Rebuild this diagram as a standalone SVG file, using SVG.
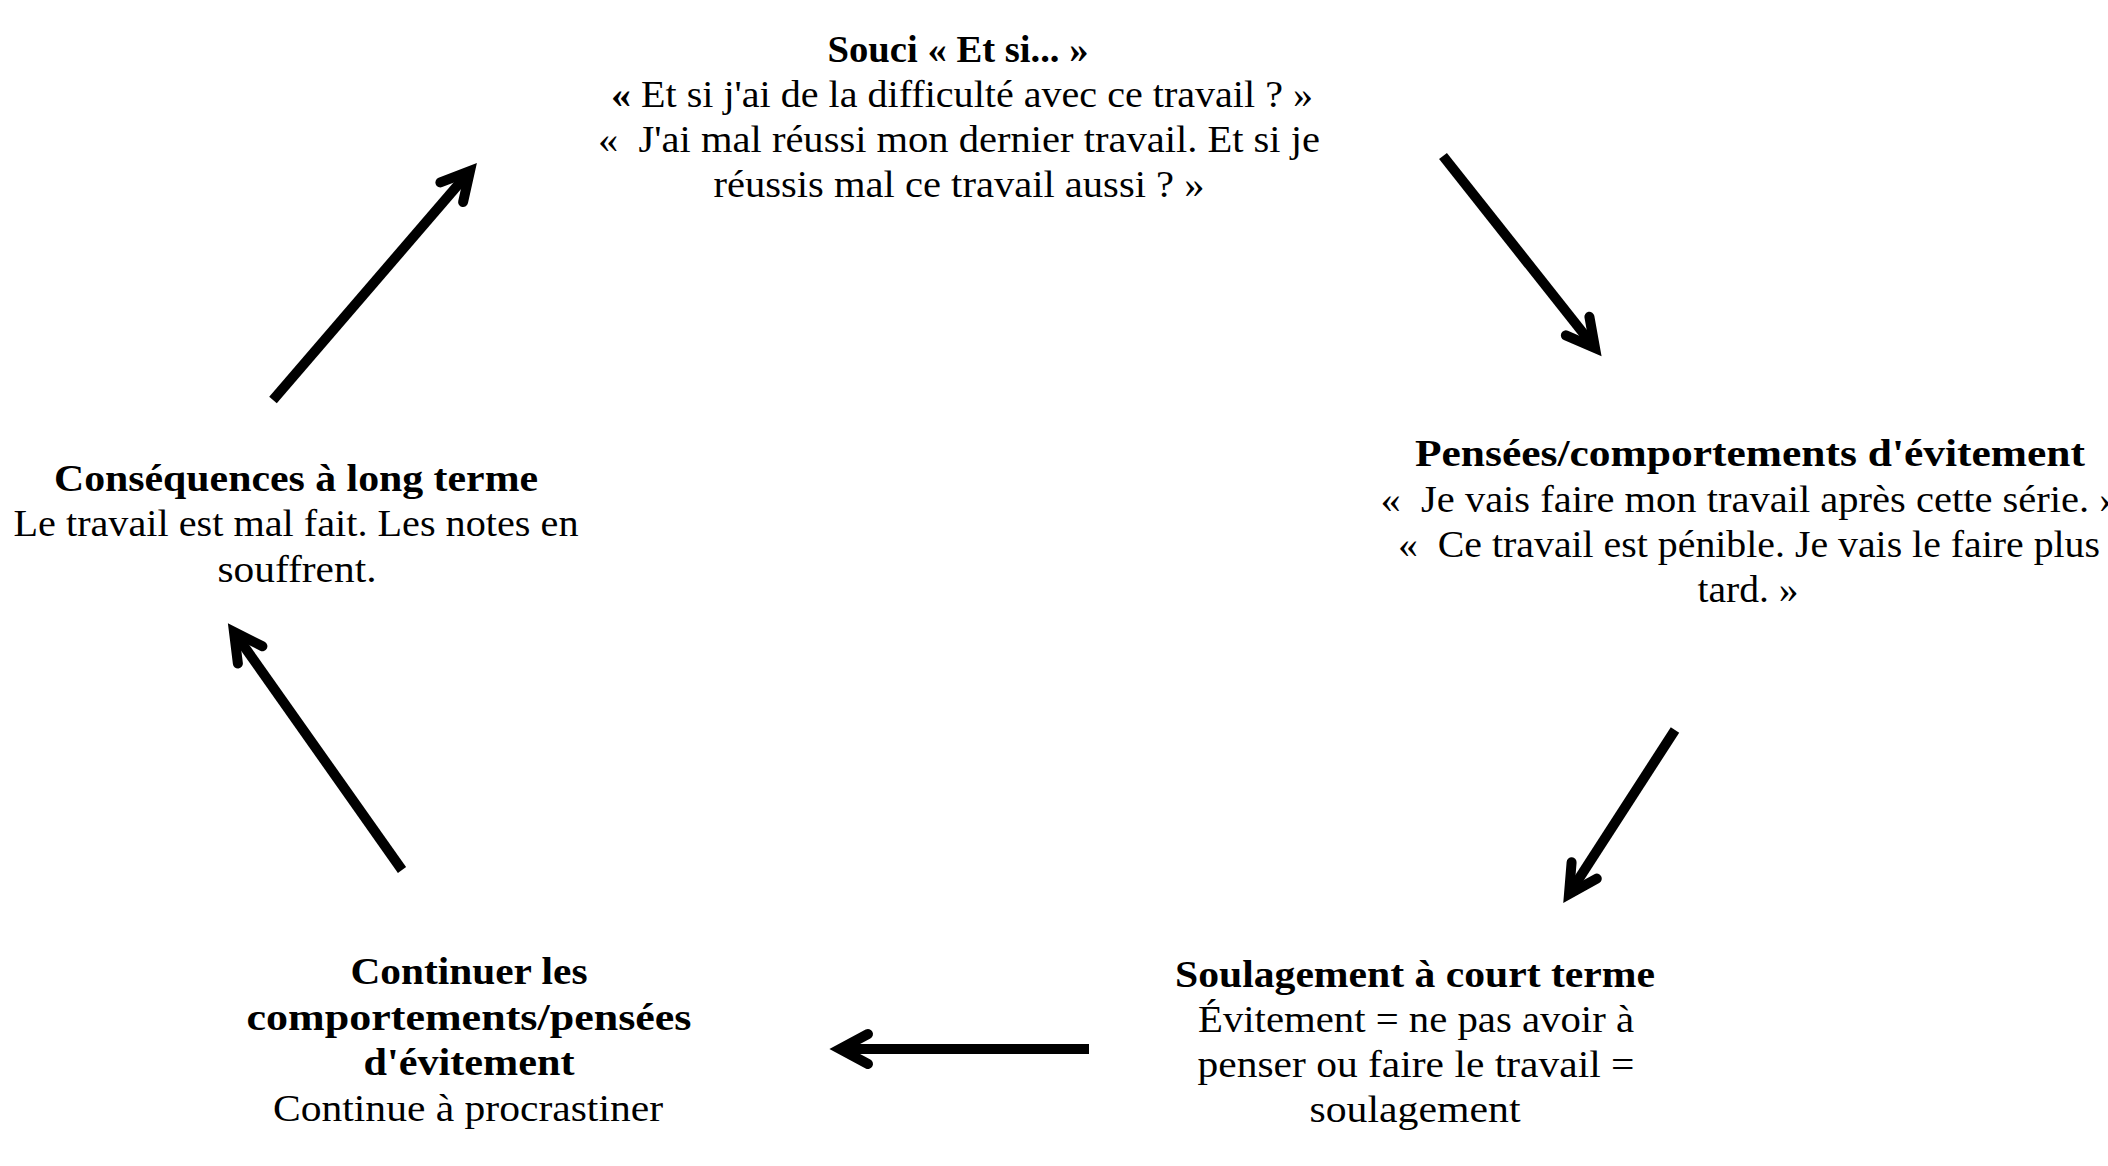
<svg xmlns="http://www.w3.org/2000/svg" width="2108" height="1166" viewBox="0 0 2108 1166">
<style>
text{font-family:"Liberation Serif","DejaVu Serif",serif;font-size:37px;fill:#000;text-anchor:middle}
.b{font-weight:bold}
.conn{stroke:#000;stroke-width:10;fill:none;marker-end:url(#chev)}
</style>
<defs>
<marker id="chev" markerUnits="userSpaceOnUse" orient="auto" overflow="visible" markerWidth="1" markerHeight="1" refX="0" refY="0">
<path d="M -28 -15 L 0 0 L -28 15" fill="none" stroke="#000" stroke-width="10" stroke-linejoin="miter" stroke-linecap="round"/>
</marker>
</defs>
<rect width="2108" height="1166" fill="#fff"/>
<g id="node-souci">
<text x="958" y="62" class="b" textLength="261" lengthAdjust="spacingAndGlyphs">Souci « Et si... »</text>
<text x="962" y="107" textLength="702" lengthAdjust="spacingAndGlyphs"><tspan class="b">«</tspan> Et si j'ai de la difficulté avec ce travail ? »</text>
<text x="959" y="152" textLength="722" lengthAdjust="spacingAndGlyphs">«&#160; J'ai mal réussi mon dernier travail. Et si je</text>
<text x="959" y="197" textLength="491" lengthAdjust="spacingAndGlyphs">réussis mal ce travail aussi ? »</text>
</g>
<g id="node-pensees">
<text x="1750" y="466" class="b" textLength="670" lengthAdjust="spacingAndGlyphs">Pensées/comportements d'évitement</text>
<text x="1750" y="512" textLength="739" lengthAdjust="spacingAndGlyphs">«&#160; Je vais faire mon travail après cette série. »</text>
<text x="1749" y="557" textLength="702" lengthAdjust="spacingAndGlyphs">«&#160; Ce travail est pénible. Je vais le faire plus</text>
<text x="1748" y="602" textLength="101" lengthAdjust="spacingAndGlyphs">tard. »</text>
</g>
<g id="node-soulagement">
<text x="1415" y="987" class="b" textLength="480" lengthAdjust="spacingAndGlyphs">Soulagement à court terme</text>
<text x="1416" y="1032" textLength="436" lengthAdjust="spacingAndGlyphs">Évitement = ne pas avoir à</text>
<text x="1416" y="1077" textLength="437" lengthAdjust="spacingAndGlyphs">penser ou faire le travail =</text>
<text x="1415" y="1122" textLength="211" lengthAdjust="spacingAndGlyphs">soulagement</text>
</g>
<g id="node-continuer">
<text x="469" y="984" class="b" textLength="237" lengthAdjust="spacingAndGlyphs">Continuer les</text>
<text x="469" y="1030" class="b" textLength="445" lengthAdjust="spacingAndGlyphs">comportements/pensées</text>
<text x="469" y="1075" class="b" textLength="211" lengthAdjust="spacingAndGlyphs">d'évitement</text>
<text x="468" y="1121" textLength="390" lengthAdjust="spacingAndGlyphs">Continue à procrastiner</text>
</g>
<g id="node-consequences">
<text x="296" y="491" class="b" textLength="484" lengthAdjust="spacingAndGlyphs">Conséquences à long terme</text>
<text x="296" y="536" textLength="565" lengthAdjust="spacingAndGlyphs">Le travail est mal fait. Les notes en</text>
<text x="297" y="582" textLength="159" lengthAdjust="spacingAndGlyphs">souffrent.</text>
</g>
<g id="connectors">
<line class="conn" x1="1443" y1="156" x2="1595" y2="348"/>
<line class="conn" x1="1675" y1="730" x2="1569" y2="894"/>
<line class="conn" x1="1089" y1="1049" x2="840" y2="1049"/>
<line class="conn" x1="402" y1="870" x2="234" y2="632"/>
<line class="conn" x1="273" y1="400" x2="470" y2="171"/>
</g>
</svg>
